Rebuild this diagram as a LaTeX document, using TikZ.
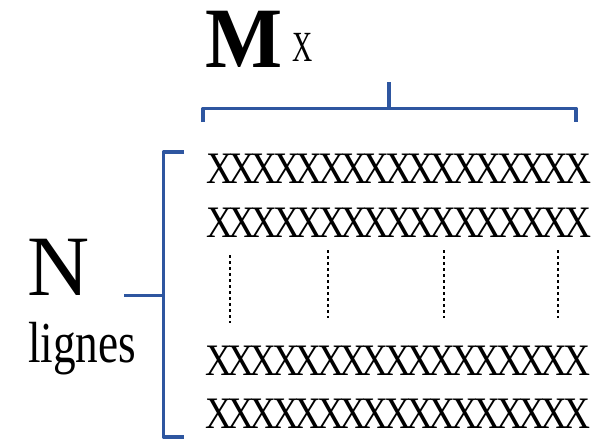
\documentclass[tikz,border=0pt]{standalone}
\usepackage{fontspec}
\setmainfont{Liberation Serif}
\definecolor{braceblue}{RGB}{46,86,160}
\tikzset{
  bracket/.style={draw=braceblue, line width=3.4pt, line join=round, line cap=butt},
  xrow/.style={anchor=base west, inner sep=0pt, font=\fontsize{45}{45}\selectfont},
  dots/.style={draw=black, line width=1.2pt, dash pattern=on 3pt off 3pt}
}
% one tightly packed X, neighbours overlap at the serifs
\newcommand{\xchar}{\scalebox{0.83}[1]{X}\kern-4.6pt}
\newcommand{\xline}{\xchar\xchar\xchar\xchar\xchar\xchar\xchar\xchar\xchar\xchar\xchar\xchar\xchar\xchar\xchar\xchar\scalebox{0.83}[1]{X}}
\begin{document}
\begin{tikzpicture}[x=1pt,y=-1pt]
  \useasboundingbox (0,0) rectangle (602,442);
  % column count label
  \node[anchor=base west, inner sep=0pt, font=\fontsize{86}{86}\selectfont\bfseries] (M) at (205,67) {\scalebox{0.95}[1]{M}};
  \node[anchor=base west, inner sep=0pt, font=\fontsize{43}{43}\selectfont] (Mx) at (292,61) {\scalebox{0.65}[1]{X}};
  % row count label
  \node[anchor=base west, inner sep=0pt, font=\fontsize{86}{86}\selectfont] (N) at (27,295) {N};
  \node[anchor=base west, inner sep=0pt, font=\fontsize{58}{58}\selectfont] (lg) at (28,362) {\scalebox{0.78}[1]{lignes}};
  % horizontal brace over the columns
  \coordinate (tl) at (203,122);
  \coordinate (tr) at (576,122);
  \coordinate (tm) at (389,82);
  \draw[bracket] (tl) -- (203,108.5) -- (576,108.5) -- (tr);
  \draw[bracket] (389,108.5) -- (tm);
  % vertical brace beside the rows
  \coordinate (lt) at (184,152);
  \coordinate (lb) at (184,437);
  \coordinate (lm) at (124,295.5);
  \draw[bracket] (lt) -- (163.5,152) -- (163.5,437) -- (lb);
  \draw[bracket] (163.5,295.5) -- (lm);
  % rows of X
  \node[xrow] (r1) at (206,183) {\xline};
  \node[xrow] (r2) at (206,237) {\xline};
  \node[xrow] (r3) at (205,375) {\xline};
  \node[xrow] (r4) at (205,428) {\xline};
  % vertical ellipsis lines
  \coordinate (d1a) at (230,255); \coordinate (d1b) at (230,323);
  \coordinate (d2a) at (328,250); \coordinate (d2b) at (328,318);
  \coordinate (d3a) at (444,250); \coordinate (d3b) at (444,318);
  \coordinate (d4a) at (558,250); \coordinate (d4b) at (558,318);
  \draw[dots] (d1a) -- (d1b);
  \draw[dots] (d2a) -- (d2b);
  \draw[dots] (d3a) -- (d3b);
  \draw[dots] (d4a) -- (d4b);
\end{tikzpicture}
\end{document}
